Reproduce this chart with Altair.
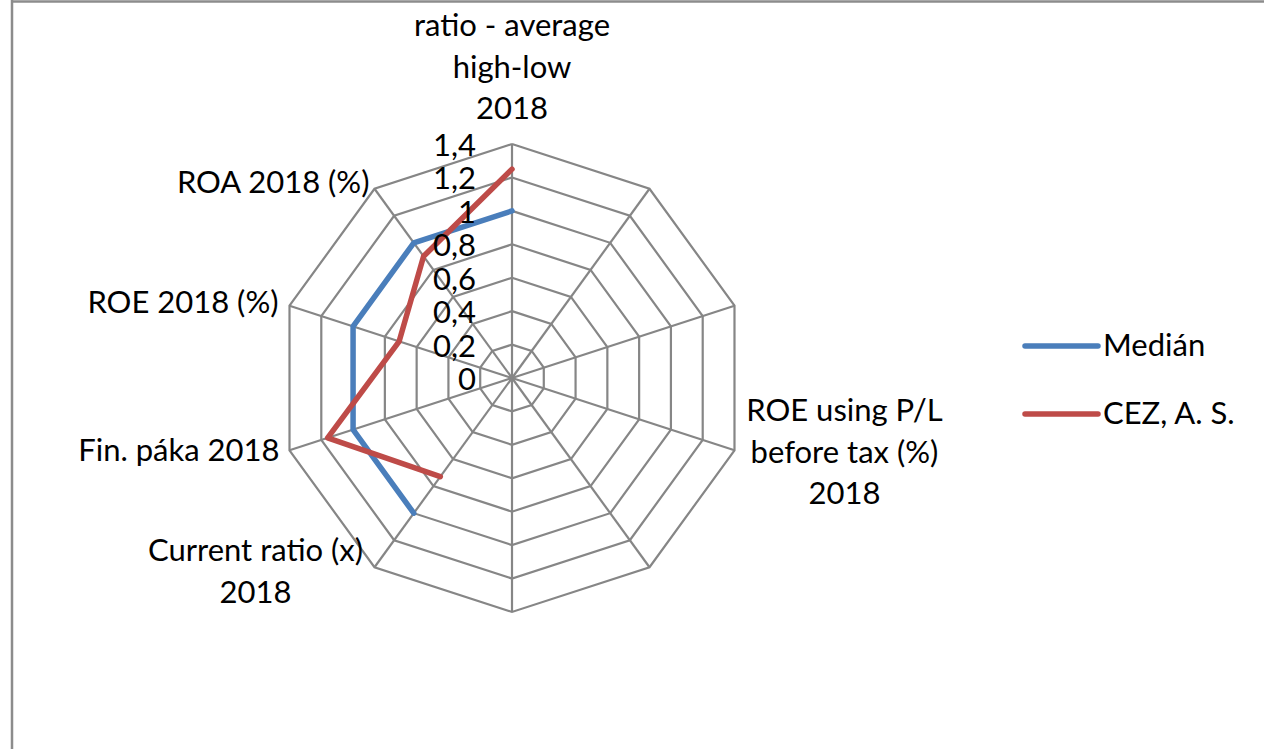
import math
import altair as alt
import pandas as pd

# Radar chart: ten axes, two series (median vs. CEZ)
axis_labels = [
    "ratio - average\nhigh-low\n2018",
    "", "",
    "ROE using P/L\nbefore tax (%)\n2018",
    "", "",
    "Current ratio (x)\n2018",
    "Fin. páka 2018",
    "ROE 2018 (%)",
    "ROA 2018 (%)",
]
median_values = [1.0, None, None, None, None, None, 1.0, 1.0, 1.0, 1.0]
cez_values = [1.25, None, None, None, None, None, 0.73, 1.16, 0.71, 0.90]
series_names = ["Medián", "CEZ, A. S."]
series_colors = ["#4A7EBB", "#BE4B48"]
ring_levels = [0.2, 0.4, 0.6, 0.8, 1.0, 1.2, 1.4]
tick_values = [0, 0.2, 0.4, 0.6, 0.8, 1.0, 1.2, 1.4]
tick_texts = ["0", "0,2", "0,4", "0,6", "0,8", "1", "1,2", "1,4"]

N = len(axis_labels)
R_MAX = 1.4
FONT = "Lato"
FS = 31
GRID = "#868686"

# canvas geometry: centre of the web and pixels per unit
W, H = 1264, 749
CX, CY, K = 512, 378, 167.1
xdom = [-CX / K, (W - CX) / K]
ydom = [-(H - CY) / K, CY / K]
xs = alt.Scale(domain=xdom, nice=False, zero=False)
ys = alt.Scale(domain=ydom, nice=False, zero=False)
cs = alt.Scale(domain=series_names, range=series_colors)

polar_x = f"datum.r * sin(datum.idx * 2 * PI / {N})"
polar_y = f"datum.r * cos(datum.idx * 2 * PI / {N})"


def X(field):
    return alt.X(field, type="quantitative", scale=xs, axis=None)


def Y(field):
    return alt.Y(field, type="quantitative", scale=ys, axis=None)


# grid rings (closed decagons)
grid_df = pd.DataFrame(
    [{"ring": r, "idx": i, "step": i} for r in ring_levels for i in range(N + 1)]
)
rings = (
    alt.Chart(grid_df)
    .transform_calculate(r="datum.ring", x=polar_x, y=polar_y)
    .mark_line(color=GRID, strokeWidth=2.2)
    .encode(x=X("x"), y=Y("y"), detail="ring:N", order="step:Q")
)

# spokes
spoke_df = pd.DataFrame({"idx": list(range(N))})
spokes = (
    alt.Chart(spoke_df)
    .transform_calculate(r=str(R_MAX), x=polar_x, y=polar_y, x0="0", y0="0")
    .mark_rule(color=GRID, strokeWidth=2.2)
    .encode(x=X("x0"), y=Y("y0"), x2="x:Q", y2="y:Q")
)

# radial tick labels along the top axis
tick_df = pd.DataFrame({"v": tick_values, "t": tick_texts})
ticks = (
    alt.Chart(tick_df)
    .transform_calculate(x0="0")
    .mark_text(align="right", baseline="middle", dx=-36, dy=3,
               font=FONT, fontSize=FS, color="#000000")
    .encode(x=X("x0"), y=Y("v"), text="t:N")
)

# series lines
rows = []
for name, vals in zip(series_names, [median_values, cez_values]):
    for i, v in enumerate(vals):
        rows.append({"series": name, "idx": i, "r": v})
series_df = pd.DataFrame(rows)
lines = (
    alt.Chart(series_df)
    .transform_filter("isValid(datum.r)")
    .transform_calculate(x=polar_x, y=polar_y,
                         ord=f"(datum.idx + {N} - 6) % {N}")
    .mark_line(strokeWidth=5.5, strokeCap="round", strokeJoin="round")
    .encode(
        x=X("x"), y=Y("y"),
        color=alt.Color("series:N", scale=cs, legend=None),
        order="ord:Q",
    )
)

# category labels at the outer vertices (offsets place the first line)
label_df = pd.DataFrame({"idx": list(range(N)), "label": axis_labels})
label_style = {
    0: dict(align="center", dx=0, dy=-117),
    3: dict(align="center", dx=110, dy=-38),
    6: dict(align="center", dx=-119, dy=-15),
    7: dict(align="right", dx=-10, dy=2),
    8: dict(align="right", dx=-11, dy=-2),
    9: dict(align="right", dx=-5, dy=-5),
}
label_layers = []
for i, st in label_style.items():
    label_layers.append(
        alt.Chart(label_df)
        .transform_filter(f"datum.idx == {i}")
        .transform_calculate(r=str(R_MAX), x=polar_x, y=polar_y)
        .mark_text(baseline="middle", lineBreak="\n", lineHeight=41.5,
                   font=FONT, fontSize=FS, color="#000000", **st)
        .encode(x=X("x"), y=Y("y"), text="label:N")
    )

# legend, drawn by hand at the right (pixel positions mapped into data units)
legend_df = pd.DataFrame({"series": series_names, "row": [0, 1]})
legend_base = alt.Chart(legend_df).transform_calculate(
    ly=f"({CY} - (346 + 68 * datum.row)) / {K}",
    lx1=f"(1025 - {CX}) / {K}",
    lx2=f"(1098 - {CX}) / {K}",
    tx=f"(1103 - {CX}) / {K}",
)
legend_lines = legend_base.mark_rule(strokeWidth=5.5, strokeCap="round").encode(
    x=X("lx1"), x2="lx2:Q", y=Y("ly"),
    color=alt.Color("series:N", scale=cs, legend=None),
)
legend_text = legend_base.mark_text(
    align="left", baseline="middle", font=FONT, fontSize=FS, color="#000000", dy=1
).encode(x=X("tx"), y=Y("ly"), text="series:N")

# chart-area frame (top and left edges)
frame_left = alt.Chart(spoke_df.head(1)).mark_rule(color="#8C8C8C", strokeWidth=2.5).encode(
    x=alt.value(12), y=alt.value(0), y2=alt.value(H)
)
frame_top = alt.Chart(spoke_df.head(1)).mark_rule(color="#8C8C8C", strokeWidth=2.5).encode(
    x=alt.value(12), x2=alt.value(W), y=alt.value(1.5)
)

chart = alt.layer(
    rings, spokes, lines, ticks, *label_layers, legend_lines, legend_text,
    frame_left, frame_top,
).properties(
    width=W, height=H, padding=0, autosize="none", background="white"
).configure_view(stroke=None)

chart.save("out.html", embed_options={"renderer": "svg", "actions": False})
